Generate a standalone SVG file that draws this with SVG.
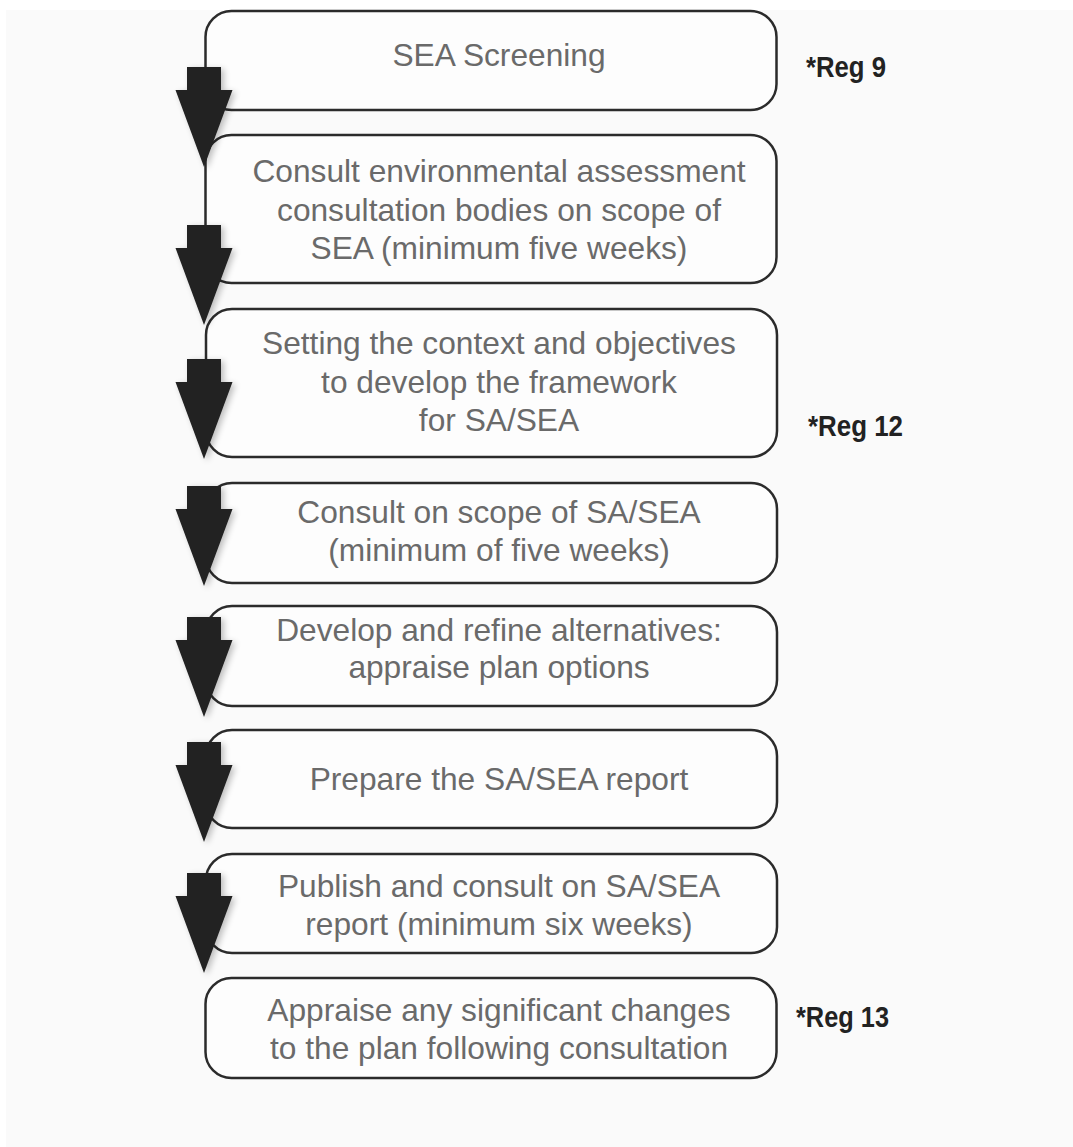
<svg xmlns="http://www.w3.org/2000/svg" width="1073" height="1147" viewBox="0 0 1073 1147">
<defs>
<style>
.box{fill:#fdfdfd;stroke:#2b2b2b;stroke-width:2.5}
.t{font-family:"Liberation Sans",Arial,sans-serif;font-size:31.7px;fill:#6a6a6a;text-anchor:middle}
.reg{font-family:"Liberation Sans",Arial,sans-serif;font-size:30px;font-weight:bold;fill:#222}
.arr{fill:#222;filter:url(#sh)}
</style>
<filter id="sh" x="-50%" y="-20%" width="200%" height="140%">
<feGaussianBlur in="SourceAlpha" stdDeviation="3"/>
<feOffset dx="3" dy="2" result="b"/>
<feComponentTransfer><feFuncA type="linear" slope="0.25"/></feComponentTransfer>
<feMerge><feMergeNode/><feMergeNode in="SourceGraphic"/></feMerge>
</filter>
<path id="ar" d="M-17,0 H17 V23 H28.5 L0,100 L-28.5,23 H-17 Z"/>
</defs>
<rect width="1073" height="1147" fill="#ffffff"/>
<rect x="6" y="10" width="1067" height="1137" fill="#fafafa"/>

<g id="n1"><rect class="box" x="205.5" y="11" width="571" height="99" rx="26"/>
<text class="t" x="499" y="66">SEA Screening</text></g>
<g id="n2"><rect class="box" x="205.5" y="135" width="571" height="148" rx="26"/>
<text class="t" x="499" y="182">Consult environmental assessment</text>
<text class="t" x="499" y="221">consultation bodies on scope of</text>
<text class="t" x="499" y="259">SEA (minimum five weeks)</text></g>
<g id="n3"><rect class="box" x="206" y="309" width="571" height="148" rx="26"/>
<text class="t" x="499" y="354">Setting the context and objectives</text>
<text class="t" x="499" y="393">to develop the framework</text>
<text class="t" x="499" y="431">for SA/SEA</text></g>
<g id="n4"><rect class="box" x="206" y="483" width="571" height="100" rx="26"/>
<text class="t" x="499" y="523">Consult on scope of SA/SEA</text>
<text class="t" x="499" y="561">(minimum of five weeks)</text></g>
<g id="n5"><rect class="box" x="206" y="606" width="571" height="100" rx="26"/>
<text class="t" x="499" y="641">Develop and refine alternatives:</text>
<text class="t" x="499" y="678">appraise plan options</text></g>
<g id="n6"><rect class="box" x="206" y="730" width="571" height="98" rx="26"/>
<text class="t" x="499" y="790">Prepare the SA/SEA report</text></g>
<g id="n7"><rect class="box" x="206" y="854" width="571" height="99" rx="26"/>
<text class="t" x="499" y="897">Publish and consult on SA/SEA</text>
<text class="t" x="499" y="935">report (minimum six weeks)</text></g>
<g id="n8"><rect class="box" x="205.5" y="978" width="571" height="100" rx="26"/>
<text class="t" x="499" y="1021">Appraise any significant changes</text>
<text class="t" x="499" y="1059">to the plan following consultation</text></g>

<g id="reg9"><text class="reg" x="806" y="77" textLength="80" lengthAdjust="spacingAndGlyphs">*Reg 9</text></g>
<g id="reg12"><text class="reg" x="808" y="436" textLength="95" lengthAdjust="spacingAndGlyphs">*Reg 12</text></g>
<g id="reg13"><text class="reg" x="796" y="1027" textLength="93" lengthAdjust="spacingAndGlyphs">*Reg 13</text></g>

<g id="connectors">
<use href="#ar" class="arr" x="204" y="67"/>
<use href="#ar" class="arr" x="204" y="225"/>
<use href="#ar" class="arr" x="204" y="359"/>
<use href="#ar" class="arr" x="204" y="486"/>
<use href="#ar" class="arr" x="204" y="617"/>
<use href="#ar" class="arr" x="204" y="742"/>
<use href="#ar" class="arr" x="204" y="873"/>
</g>
</svg>
